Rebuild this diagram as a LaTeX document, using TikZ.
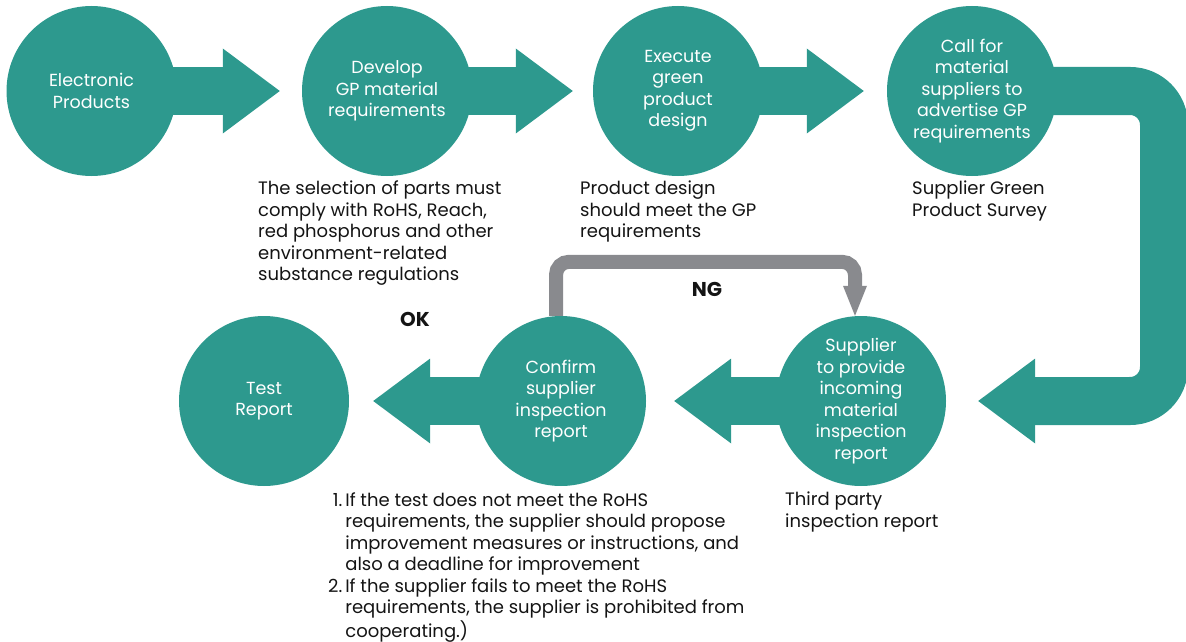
\documentclass[tikz,border=0pt]{standalone}
\usepackage{fontspec}
\setmainfont{Poppins}
\definecolor{gpteal}{RGB}{45,153,142}
\definecolor{gpgray}{RGB}{137,138,142}
\definecolor{gptext}{RGB}{20,20,20}
\usetikzlibrary{arrows.meta,positioning}

\begin{document}
\begin{tikzpicture}[x=1pt, y=-1pt,
    stepcirc/.style={circle, fill=gpteal, minimum size=170pt, inner sep=0pt, align=center,
      text=white, font=\fontsize{17.5}{21.5}\selectfont},
    note/.style={anchor=north west, inner sep=0pt, align=left, text=gptext,
      font=\fontsize{18}{21.5}\selectfont},
    bigarrow/.style={draw=gpteal, line width=48pt,
      -{Triangle[length=57pt, width=85pt, line width=0pt]}, shorten >=22pt},
    ngarrow/.style={draw=gpgray, line width=14pt, rounded corners=13pt,
      -{Triangle[length=30pt, width=24pt, line width=0pt]}},
    flag/.style={inner sep=0pt, text=gptext, font=\fontsize{20}{24}\selectfont\bfseries}
  ]
    \useasboundingbox (0,0) rectangle (1186,642);
    % Top row
    \node[stepcirc] (elec) at (91.5,91) {Electronic\\Products};
    \node[stepcirc] (develop) at (387,91) {Develop\\GP material\\requirements};
    \node[stepcirc] (execute) at (678,91) {Execute\\green\\product\\design};
    \node[stepcirc] (callsup) at (972,91) {Call for\\material\\suppliers to\\advertise GP\\requirements};
    % Bottom row
    \node[stepcirc] (provide) at (861,401) {Supplier\\to provide\\incoming\\material\\inspection\\report};
    \node[stepcirc] (confirm) at (561,401) {Confirm\\supplier\\inspection\\report};
    \node[stepcirc] (test) at (264,401) {Test\\Report};
    % Flow arrows
    \draw[bigarrow] ([xshift=-8pt]elec.east) -- (develop);
    \draw[bigarrow, shorten >=20pt] ([xshift=-8pt]develop.east) -- (execute);
    \draw[bigarrow, shorten >=23pt] ([xshift=-8pt]execute.east) -- (callsup);
    \coordinate (uturn) at (1164,250);
    \draw[bigarrow, rounded corners=34pt, shorten >=32pt] ([xshift=-8pt]callsup.east) -| (uturn) |- (provide.east);
    \draw[bigarrow, shorten >=28pt] ([xshift=8pt]provide.west) -- (confirm);
    \draw[bigarrow, shorten >=24pt] ([xshift=8pt]confirm.west) -- (test);
    % Retry loop
    \draw[ngarrow] ([xshift=-5pt]confirm.north) -- ++(0,-54) -| ([xshift=-6pt]provide.north);
    \node[flag] (ng) at (707,289) {NG};
    \node[flag] (ok) at (415,319) {OK};
    % Notes
    \node[note] (selnote) at (258,181) {The selection of parts must\\comply with RoHS, Reach,\\red phosphorus and other\\environment-related\\substance regulations};
    \node[note] (designnote) at (580,181) {Product design\\should meet the GP\\requirements};
    \node[note] (surveynote) at (912,181) {Supplier Green\\Product Survey};
    \node[note] (thirdnote) at (785,492) {Third party\\inspection report};
    \node[note] (listnote) at (328,491) {\begin{tabular}{@{}r@{\hspace{3pt}}l@{}}
      1. & If the test does not meet the RoHS\\
         & requirements, the supplier should propose\\
         & improvement measures or instructions, and\\
         & also a deadline for improvement\\
      2. & If the supplier fails to meet the RoHS\\
         & requirements, the supplier is prohibited from\\
         & cooperating.)
    \end{tabular}};
  \end{tikzpicture}
\end{document}
